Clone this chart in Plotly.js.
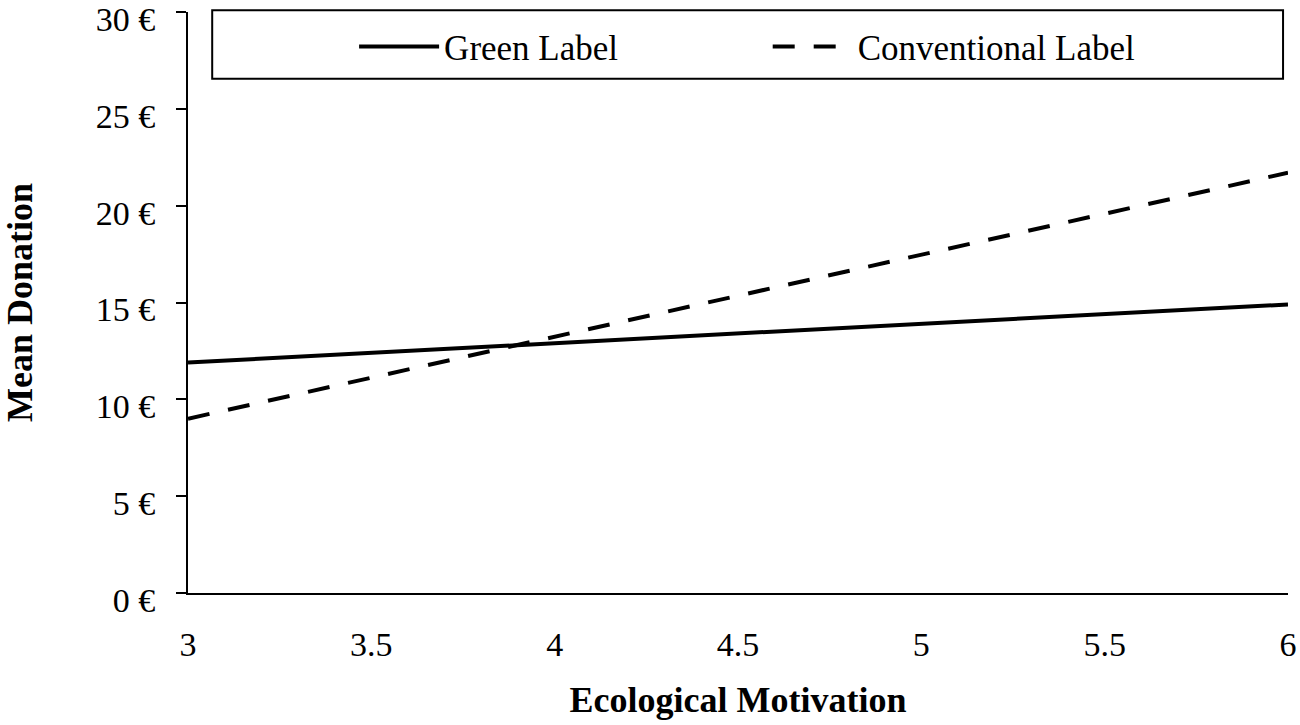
<!DOCTYPE html>
<html>
<head>
<meta charset="utf-8">
<script src="https://cdn.plot.ly/plotly-3.0.1.min.js"></script>
<style>
  html, body { margin: 0; padding: 0; background: #fff; }
  #chart { width: 1300px; height: 725px; }
</style>
</head>
<body>
<div id="chart"></div>
<script>
// Ecological motivation (x) against predicted mean donation
const motivation = [3, 6];
const greenLabel = [11.9, 14.9];
const conventionalLabel = [9.0, 21.7];

const yTickVals = [0, 5, 10, 15, 20, 25, 30];
const yTickText = ['0 €', '5 €', '10 €', '15 €', '20 €', '25 €', '30 €'];
const xTickVals = [3, 3.5, 4, 4.5, 5, 5.5, 6];
const xTickText = ['3', '3.5', '4', '4.5', '5', '5.5', '6'];

const serif = 'Liberation Serif, Times New Roman, serif';

const traces = [
    {
        x: motivation,
        y: greenLabel,
        name: 'Green Label',
        type: 'scatter',
        mode: 'lines',
        legend: 'legend',
        line: { color: '#000', width: 4 }
    },
    {
        x: motivation,
        y: conventionalLabel,
        name: 'Conventional Label',
        type: 'scatter',
        mode: 'lines',
        legend: 'legend2',
        line: { color: '#000', width: 4, dash: '22px,19px' }
    }
];

// one legend per entry so each can sit where the original has it
function legendAt(x) {
    return {
        x: x,
        xanchor: 'left',
        y: 0.94,
        yanchor: 'middle',
        bgcolor: 'rgba(0,0,0,0)',
        itemwidth: 80,
        font: { family: serif, size: 35, color: '#000' }
    };
}

const layout = {
    width: 1300,
    height: 725,
    margin: { t: 12, r: 12, b: 132, l: 188 },
    plot_bgcolor: '#FFFFFF',
    paper_bgcolor: '#FFFFFF',
    font: { family: serif, size: 34, color: '#000' },
    showlegend: true,
    legend: legendAt(0.151),
    legend2: legendAt(0.527),
    // legend frame spanning the plot width
    shapes: [{
        type: 'rect',
        xref: 'paper', yref: 'paper',
        x0: 0.022, x1: 0.9955, y0: 0.885, y1: 1.003,
        line: { color: '#000', width: 2 },
        fillcolor: 'rgba(0,0,0,0)',
        layer: 'below'
    }],
    xaxis: {
        range: [3, 6],
        tickvals: xTickVals,
        ticktext: xTickText,
        ticks: '',
        showgrid: false,
        zeroline: false,
        showline: true,
        linecolor: '#000',
        linewidth: 2,
        ticklabelstandoff: 20,
        ticklabeloverflow: 'allow',
        tickfont: { family: serif, size: 34 },
        automargin: false,
        title: {
            text: '<b>Ecological Motivation</b>',
            font: { family: serif, size: 36 },
            standoff: 25
        }
    },
    yaxis: {
        range: [0, 30],
        tickvals: yTickVals,
        ticktext: yTickText,
        ticks: 'outside',
        ticklen: 10,
        tickwidth: 2,
        tickcolor: '#000',
        showgrid: false,
        zeroline: false,
        showline: true,
        linecolor: '#000',
        linewidth: 2,
        ticklabelstandoff: 14,
        ticklabelshift: 7,
        ticklabeloverflow: 'allow',
        tickfont: { family: serif, size: 34 },
        automargin: false,
        title: {
            text: '<b>Mean Donation</b>',
            font: { family: serif, size: 36 },
            standoff: 52
        }
    }
};

const config = { displayModeBar: false, staticPlot: true };

Plotly.newPlot('chart', traces, layout, config);
</script>
</body>
</html>
